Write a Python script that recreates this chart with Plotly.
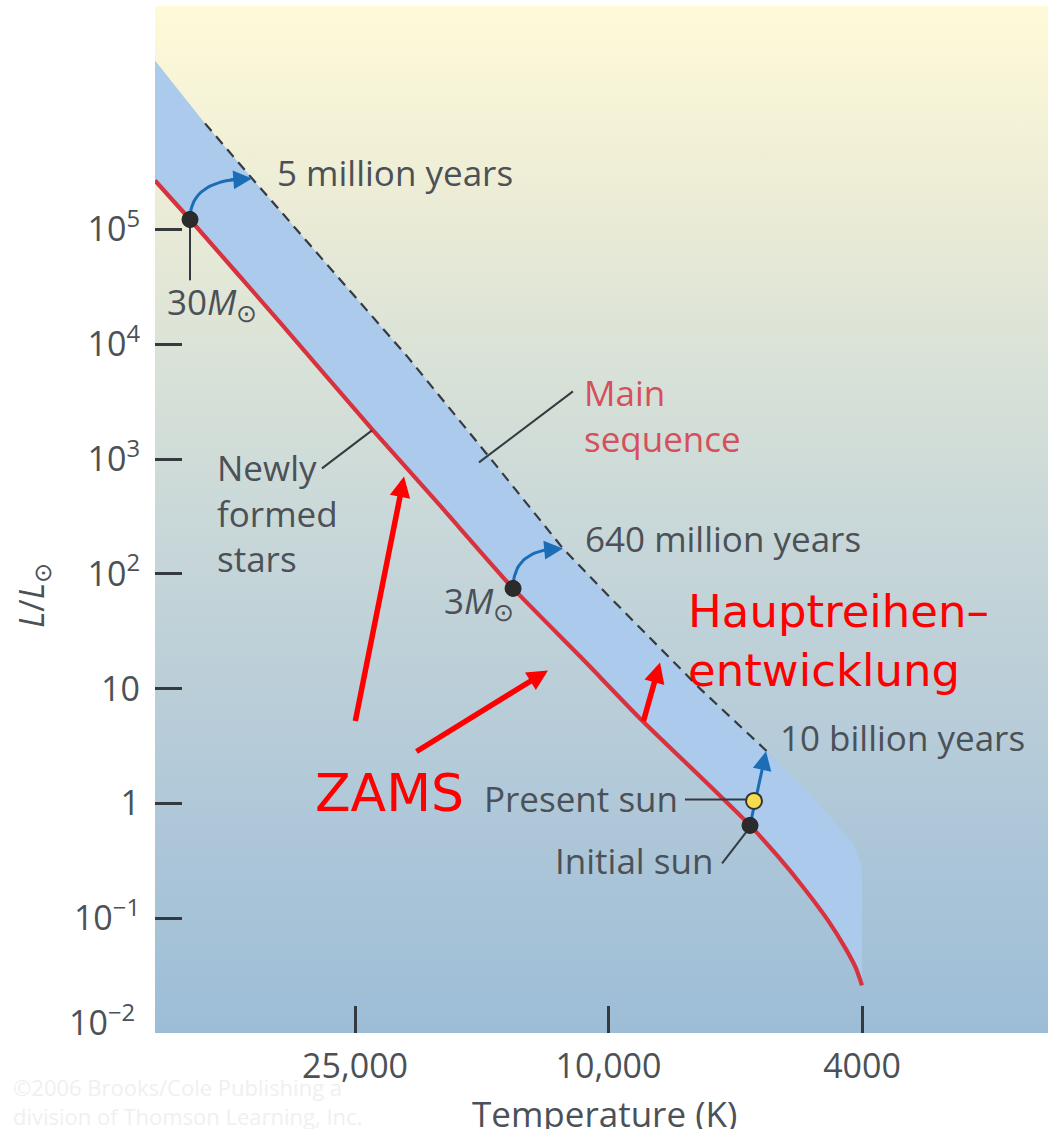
import math
import base64
import plotly.graph_objects as go

# ---------------- data ----------------
# Zero-age main sequence (temperature in K, luminosity in L_sun)
zams_T = [51520, 45390, 32790, 23420, 18390, 14120, 11085, 8924, 7184, 5996,
          5419, 4915, 4523, 4237, 4087, 4000]
zams_L = [2.67e5, 1.22e5, 1.548e4, 1775, 394, 74.6, 19.1, 5.50, 1.72, 0.643,
          0.345, 0.178, 0.0957, 0.0535, 0.0365, 0.026]

# End of the main-sequence phase (dashed line)
tams_T = [42990, 36270, 28380, 20640, 15460, 11790, 9946, 8390, 7184, 5638]
tams_L = [8.38e5, 2.78e5, 5.82e4, 7674, 1075, 166.5, 62.3, 23.8, 10.0, 2.84]

# Outline of the main-sequence band beyond the dashed line
band_head_T = [51520]
band_head_L = [2.966e6]
band_tail_T = [4775, 4131, 4000, 4000]
band_tail_L = [1.128, 0.448, 0.277, 0.026]

# Evolution of three stars: start on the ZAMS, end on the dashed line
track_start_T = [45390, 14120, 5996]
track_start_L = [1.22e5, 74.6, 0.643]
track_end_T = [36270, 11790, 5658]
track_end_L = [2.78e5, 166.5, 2.84]
track_curved = [True, True, False]
track_ages = ["5 million years", "640 million years", "10 billion years"]

present_sun_T = 5910
present_sun_L = 1.05

x_tickvals = [25000, 10000, 4000]
x_ticktext = ["25,000", "10,000", "4000"]
y_tickvals = [1e5, 1e4, 1e3, 1e2, 10, 1, 0.1]
y_ticktext = ["10<sup>5</sup>", "10<sup>4</sup>", "10<sup>3</sup>", "10<sup>2</sup>", "10", "1", "10<sup>−1</sup>"]

# ---------------- style ----------------
FONT = "Open Sans"
GREY = "#4b5157"
DARK = "#353a40"
BLUE = "#1b6db6"
RED_LINE = "#d8323f"
BAND = "#abcaec"
ARROW_RED = "#ff0000"

XR = [4.71192, 3.31007]
YR = [-2.0, 6.946]


def lg(v):
    return math.log10(v)


def bezier(p0, p1, c, n=24):
    pts = []
    for i in range(n + 1):
        t = i / n
        x = (1 - t) ** 2 * p0[0] + 2 * (1 - t) * t * c[0] + t ** 2 * p1[0]
        y = (1 - t) ** 2 * p0[1] + 2 * (1 - t) * t * c[1] + t ** 2 * p1[1]
        pts.append((x, y))
    return pts


fig = go.Figure()

# main-sequence band
band_x = band_head_T + tams_T + band_tail_T + zams_T[::-1]
band_y = band_head_L + tams_L + band_tail_L + zams_L[::-1]
fig.add_trace(go.Scatter(x=band_x, y=band_y, fill="toself", fillcolor=BAND,
                         line=dict(width=0), mode="lines", hoverinfo="skip"))

# dashed line: end of main-sequence life
fig.add_trace(go.Scatter(x=tams_T, y=tams_L, mode="lines",
                         line=dict(color=DARK, width=2.2, dash="10px,7px")))

# ZAMS
fig.add_trace(go.Scatter(x=zams_T, y=zams_L, mode="lines",
                         line=dict(color=RED_LINE, width=4.2, shape="spline", smoothing=0.5)))

# leader lines for the labels
leaders = [
    ([45390, 45390], [1.22e5, 3.6e4]),          # 30 M_sun
    ([28170, 23510], [828, 1775]),              # Newly formed stars
    ([11370, 15970], [3880, 934]),              # Main sequence
    ([7584, 6084], [1.08, 1.08]),               # Present sun
    ([6633, 6084], [0.300, 0.559]),             # Initial sun
]
for lx, ly in leaders:
    fig.add_trace(go.Scatter(x=lx, y=ly, mode="lines", line=dict(color=DARK, width=2)))

annotations = []

# evolution tracks (blue arrows)
for T0, L0, T1, L1, curved in zip(track_start_T, track_start_L, track_end_T, track_end_L, track_curved):
    p0 = (lg(T0), lg(L0))
    p1 = (lg(T1), lg(L1))
    c = (p0[0], p1[1]) if curved else ((p0[0] + p1[0]) / 2, (p0[1] + p1[1]) / 2)
    pts = bezier(p0, p1, c)
    fig.add_trace(go.Scatter(x=[10 ** p[0] for p in pts[:-3]], y=[10 ** p[1] for p in pts[:-3]],
                             mode="lines", line=dict(color=BLUE, width=3)))
    tail = pts[-6]
    annotations.append(dict(x=p1[0], y=p1[1], ax=tail[0], ay=tail[1], xref="x", yref="y",
                            axref="x", ayref="y", text="", showarrow=True, arrowhead=2,
                            arrowsize=1.25, arrowwidth=3, arrowcolor=BLUE, standoff=0))

# star positions
fig.add_trace(go.Scatter(x=track_start_T, y=track_start_L, mode="markers",
                         marker=dict(size=16, color="#2b2b2b", line=dict(color="#222", width=1))))
fig.add_trace(go.Scatter(x=[present_sun_T], y=[present_sun_L], mode="markers",
                         marker=dict(size=16, color="#f7dc52", line=dict(color="#333", width=2))))


def label(text, T, L, anchor="left", size=35, color=GREY, font=FONT, valign="middle"):
    annotations.append(dict(x=lg(T), y=lg(L), xref="x", yref="y", text=text, showarrow=False,
                            xanchor=anchor, yanchor=valign, align=anchor if anchor != "center" else "center",
                            font=dict(family=font, size=size, color=color)))


label(track_ages[0], 10 ** 4.52353, 10 ** 5.4965)
label(track_ages[1], 10 ** 4.04001, 10 ** 2.3084)
label(track_ages[2], 10 ** 3.73389, 10 ** 0.5749)
label("30<i>M</i><sub>⊙</sub>", 10 ** 4.69621, 10 ** 4.3554)
label("3<i>M</i><sub>⊙</sub>", 10 ** 4.26136, 10 ** 1.7509)
label("Main<br>sequence", 10 ** 4.04158, 10 ** 3.3798, color="#d5505b")
label("Newly<br>formed<br>stars", 10 ** 4.61772, 10 ** 2.5261)
label("Present sun", 10 ** 3.88773, 10 ** 0.0436, anchor="right")
label("Initial sun", 10 ** 3.83279, 10 ** -0.4965, anchor="right")

# red highlighting
label("ZAMS", 10 ** 4.46388, 10 ** 0.0871, size=52, color=ARROW_RED, font="DejaVu Sans")
label("Hauptreihen–<br>entwicklung", 10 ** 3.87831, 10 ** 1.4111, size=45, color=ARROW_RED,
      font="DejaVu Sans")

red_arrows = [
    (20940, 705, -49, 246),
    (12445, 14.4, -133, 82),
    (8300, 16.9, -17, 60),
]
for T, L, dx, dy in red_arrows:
    annotations.append(dict(x=lg(T), y=lg(L), xref="x", yref="y", ax=dx, ay=dy, text="",
                            showarrow=True, arrowhead=2, arrowsize=0.75, arrowwidth=5.5,
                            arrowcolor=ARROW_RED, standoff=0))

# axis titles and the lowest tick label
annotations.append(dict(x=-0.1366, y=0.4255, xref="paper", yref="paper", text="<i>L</i>/<i>L</i><sub>⊙</sub>",
                        showarrow=False, textangle=-90, xanchor="center", yanchor="middle",
                        font=dict(family=FONT, size=34, color=GREY)))
annotations.append(dict(x=0.5028, y=-0.054, xref="paper", yref="paper", text="Temperature (K)",
                        showarrow=False, yanchor="top", font=dict(family=FONT, size=35, color=GREY)))
annotations.append(dict(x=-0.0202, y=0.0126, xref="paper", yref="paper", text="10<sup>−2</sup>",
                        showarrow=False, xanchor="right", yanchor="middle",
                        font=dict(family=FONT, size=34, color=GREY)))
annotations.append(dict(x=-0.161, y=-0.036, xref="paper", yref="paper",
                        text="©2006 Brooks/Cole Publishing a<br>division of Thomson Learning, Inc.",
                        showarrow=False, xanchor="left", yanchor="top", align="left",
                        font=dict(family=FONT, size=22, color="#f0f0f0")))

# vertical background gradient of the plotting area
stops = [
    (0.00, "rgb(255,250,216)"),
    (0.19, "rgb(236,236,214)"),
    (0.33, "rgb(219,227,215)"),
    (0.48, "rgb(203,217,216)"),
    (0.67, "rgb(186,206,216)"),
    (0.82, "rgb(172,198,216)"),
    (1.00, "rgb(157,189,215)"),
]
stop_xml = "".join(f'<stop offset="{o}" stop-color="{c}"/>' for o, c in stops)
svg = ('<svg xmlns="http://www.w3.org/2000/svg" width="100" height="100" viewBox="0 0 100 100" '
       'preserveAspectRatio="none"><defs><linearGradient id="g" x1="0" y1="0" x2="0" y2="1">'
       + stop_xml + '</linearGradient></defs><rect width="100" height="100" fill="url(#g)"/></svg>')
bg_src = "data:image/svg+xml;base64," + base64.b64encode(svg.encode()).decode()

fig.update_layout(
    width=1048, height=1129,
    margin=dict(l=155, r=0, t=6, b=96),
    paper_bgcolor="white",
    plot_bgcolor="white",
    showlegend=False,
    annotations=annotations,
    images=[dict(source=bg_src, xref="paper", yref="paper", x=0, y=1, sizex=1, sizey=1,
                 xanchor="left", yanchor="top", sizing="stretch", layer="below")],
)
fig.update_xaxes(type="log", range=XR, tickvals=x_tickvals, ticktext=x_ticktext,
                 ticks="inside", ticklen=27, tickwidth=2.5, tickcolor=DARK,
                 showgrid=False, zeroline=False, showline=False, ticklabelstandoff=10,
                 tickfont=dict(family=FONT, size=34, color=GREY))
fig.update_yaxes(type="log", range=YR, tickvals=y_tickvals, ticktext=y_ticktext,
                 ticks="inside", ticklen=27, tickwidth=2.5, tickcolor=DARK,
                 showgrid=False, zeroline=False, showline=False, ticklabelstandoff=14,
                 tickfont=dict(family=FONT, size=34, color=GREY))

fig.write_html("out.html")
